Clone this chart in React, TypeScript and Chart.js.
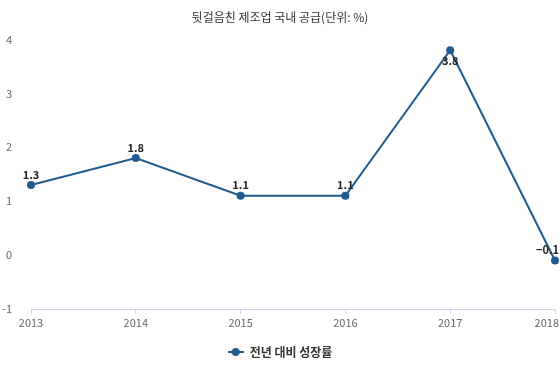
import React, { useEffect, useRef } from "react";
import { Chart, registerables } from "chart.js";

Chart.register(...registerables);

const categories = ["2013", "2014", "2015", "2016", "2017", "2018"];
const growth = [1.3, 1.8, 1.1, 1.1, 3.8, -0.1];
const yTicks = [-1, 0, 1, 2, 3, 4];
const titleText = "뒷걸음친 제조업 국내 공급(단위: %)";
const seriesName = "전년 대비 성장률";

const LINE = "#1f5b8f";
const FONT = "'Noto Sans CJK KR', 'Noto Sans', sans-serif";
const CANVAS_W = 560;

function legendMarker() {
  const c = document.createElement("canvas");
  c.width = 16;
  c.height = 10;
  const g = c.getContext("2d")!;
  g.strokeStyle = LINE;
  g.lineWidth = 2;
  g.beginPath();
  g.moveTo(0, 5);
  g.lineTo(16, 5);
  g.stroke();
  g.fillStyle = LINE;
  g.beginPath();
  g.arc(8, 5, 4, 0, Math.PI * 2);
  g.fill();
  return c;
}

function clampX(ctx: any, text: string, x: number) {
  const w = ctx.measureText(text).width;
  let cx = x;
  if (cx + w / 2 > CANVAS_W - 1) cx = CANVAS_W - 1 - w / 2;
  if (cx - w / 2 < 1) cx = 1 + w / 2;
  return cx;
}

const labelPlugin = {
  id: "valueLabels",
  afterDatasetsDraw(chart: any) {
    const ctx = chart.ctx;
    const meta = chart.getDatasetMeta(0);
    ctx.save();
    ctx.font = `bold 11px ${FONT}`;
    ctx.fillStyle = "#222";
    ctx.textAlign = "center";
    meta.data.forEach((pt: any, i: number) => {
      const v = growth[i];
      const text = v.toFixed(1).replace("-", "−");
      const below = v >= 3.5;
      ctx.textBaseline = below ? "top" : "bottom";
      const y = below ? pt.y + 5 : pt.y - 5;
      ctx.fillText(text, clampX(ctx, text, pt.x), y);
    });
    // x-axis category labels, kept inside the canvas
    const xs = chart.scales.x;
    ctx.font = `11px ${FONT}`;
    ctx.fillStyle = "#666";
    ctx.textBaseline = "middle";
    categories.forEach((c, i) => {
      const px = xs.getPixelForTick(i);
      ctx.fillText(c, clampX(ctx, c, px), xs.top + 14);
    });
    ctx.restore();
  },
};

export default function App() {
  const ref = useRef<HTMLCanvasElement>(null);
  useEffect(() => {
    document.body.style.margin = "0";
    const marker = legendMarker();
    const chart = new Chart(ref.current!, {
      type: "line",
      data: {
        labels: categories,
        datasets: [
          {
            label: seriesName,
            data: growth,
            borderColor: LINE,
            backgroundColor: LINE,
            borderWidth: 2,
            pointRadius: 4,
            pointHoverRadius: 4,
            pointBorderWidth: 0,
            pointBackgroundColor: LINE,
            pointBorderColor: LINE,
            tension: 0,
          },
        ],
      },
      options: {
        animation: false,
        responsive: false,
        layout: { padding: { left: 0, right: 0, top: 10, bottom: 5 } },
        scales: {
          x: {
            offset: false,
            grid: {
              display: true,
              drawOnChartArea: false,
              drawTicks: true,
              tickLength: 5,
              color: "#ccd6eb",
            },
            border: { display: true, color: "#ccd6eb" },
            ticks: { display: false },
            afterFit: (s: any) => {
              s.height = 27;
              s.paddingRight = 5;
              s.paddingLeft = 0;
            },
          },
          y: {
            min: -1,
            max: 4,
            afterBuildTicks: (s: any) => {
              s.ticks = yTicks.map((v) => ({ value: v }));
            },
            afterFit: (s: any) => {
              s.width = 31;
            },
            grid: { display: false, drawTicks: false },
            border: { display: false },
            ticks: {
              color: "#666",
              font: { size: 11, family: FONT },
              padding: 19,
            },
          },
        },
        plugins: {
          title: {
            display: true,
            text: titleText,
            color: "#333",
            font: { size: 12, weight: "normal", family: FONT },
            padding: { top: 0, bottom: 15 },
          },
          legend: {
            position: "bottom",
            labels: {
              color: "#333",
              font: { size: 12, weight: "bold", family: FONT },
              usePointStyle: true,
              pointStyleWidth: 16,
              boxHeight: 10,
              generateLabels: (c: any) => {
                const items = Chart.defaults.plugins.legend.labels.generateLabels(c);
                return items.map((it: any) => ({ ...it, pointStyle: marker }));
              },
            },
          },
          tooltip: { enabled: false },
        },
      },
      plugins: [labelPlugin],
    });
    return () => chart.destroy();
  }, []);
  return <canvas ref={ref} width={560} height={373} style={{ display: "block" }} />;
}
